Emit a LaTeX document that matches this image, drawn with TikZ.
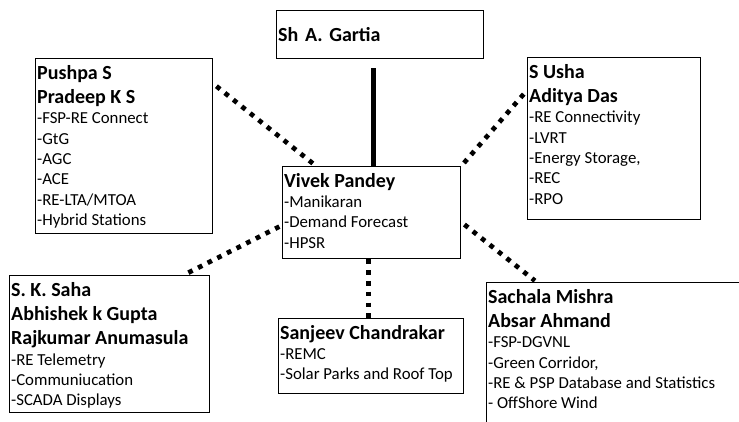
\documentclass[tikz,border=0pt]{standalone}
\usepackage{fontspec}
\setmainfont{Carlito}
\usetikzlibrary{calc}

\newcommand\namefont{\fontsize{20}{24.4}\selectfont\bfseries}
\newcommand\itemfont{\fontsize{16.8}{20.3}\selectfont}
\newcommand\nm[1]{{\namefont #1\par}}
\newcommand\card[3]{\parbox[c][#2][t]{#1}{\raggedright\vspace*{6.5pt}#3}}

\tikzset{
  staff box/.style={
    rectangle,
    draw=black,
    line width=1.3pt,
    inner xsep=1.5pt,
    inner ysep=0pt,
    anchor=north west,
    font=\itemfont,
  },
  head box/.style={
    staff box,
    text width=204pt,
    align=left,
    minimum height=48pt,
    font=\namefont,
  },
  report line/.style={line width=5pt},
  dot link/.style={line width=4.7pt, dash pattern=on 4.7pt off 6.1pt},
}

\begin{document}
\begin{tikzpicture}[x=1pt,y=-1pt]
  \useasboundingbox (0,0) rectangle (739,421);
  \clip (0,0) rectangle (739,421);

  \node[head box] (gartia) at (276,10) {Sh A. Gartia};

  \node[staff box] (pushpa) at (35,58) {\card{174pt}{175pt}{\nm{Pushpa S}\nm{Pradeep K S}-FSP-RE Connect\\-GtG\\-AGC\\-ACE\\-RE-LTA/MTOA\\-Hybrid Stations}};
  \node[staff box] (usha) at (527,57) {\card{170pt}{162pt}{\nm{S Usha}\nm{Aditya Das}-RE Connectivity\\-LVRT\\-Energy Storage,\\-REC\\-RPO}};
  \node[staff box] (vivek) at (282,166) {\card{175pt}{92pt}{\nm{Vivek Pandey}-Manikaran\\-Demand Forecast\\-HPSR}};
  \node[staff box] (saha) at (9,275) {\card{197pt}{137pt}{\nm{S. K. Saha}\nm{Abhishek k Gupta}\nm{Rajkumar Anumasula}-RE Telemetry\\-Communiucation\\-SCADA Displays}};
  \node[staff box] (sanjeev) at (278,318) {\card{182pt}{75pt}{\nm{Sanjeev Chandrakar}-REMC\\-Solar Parks and Roof Top}};
  \node[staff box] (sachala) at (486,282) {\card{277pt}{150pt}{\nm{Sachala Mishra}\nm{Absar Ahmand}-FSP-DGVNL\\-Green Corridor,\\-RE \& PSP Database and Statistics\\- OffShore Wind}};

  \draw[report line,shorten >=9pt] ([xshift=1.5pt]vivek.north) -- ([xshift=1.5pt]vivek.north |- gartia.south);

  \draw[dot link,shorten <=4pt,shorten >=3pt] (pushpa.35) -- (vivek.140);
  \draw[dot link,shorten <=5pt,shorten >=2pt] (usha.151) -- (vivek.north east);
  \draw[dot link,shorten <=3pt,shorten >=4pt] (vivek.188) -- (saha.43);
  \draw[dot link] ([xshift=-3pt]vivek.south) -- ([xshift=-3pt]vivek.south |- sanjeev.north);
  \draw[dot link,shorten <=4pt,shorten >=2pt] (vivek.-6) -- (sachala.140);
\end{tikzpicture}
\end{document}
